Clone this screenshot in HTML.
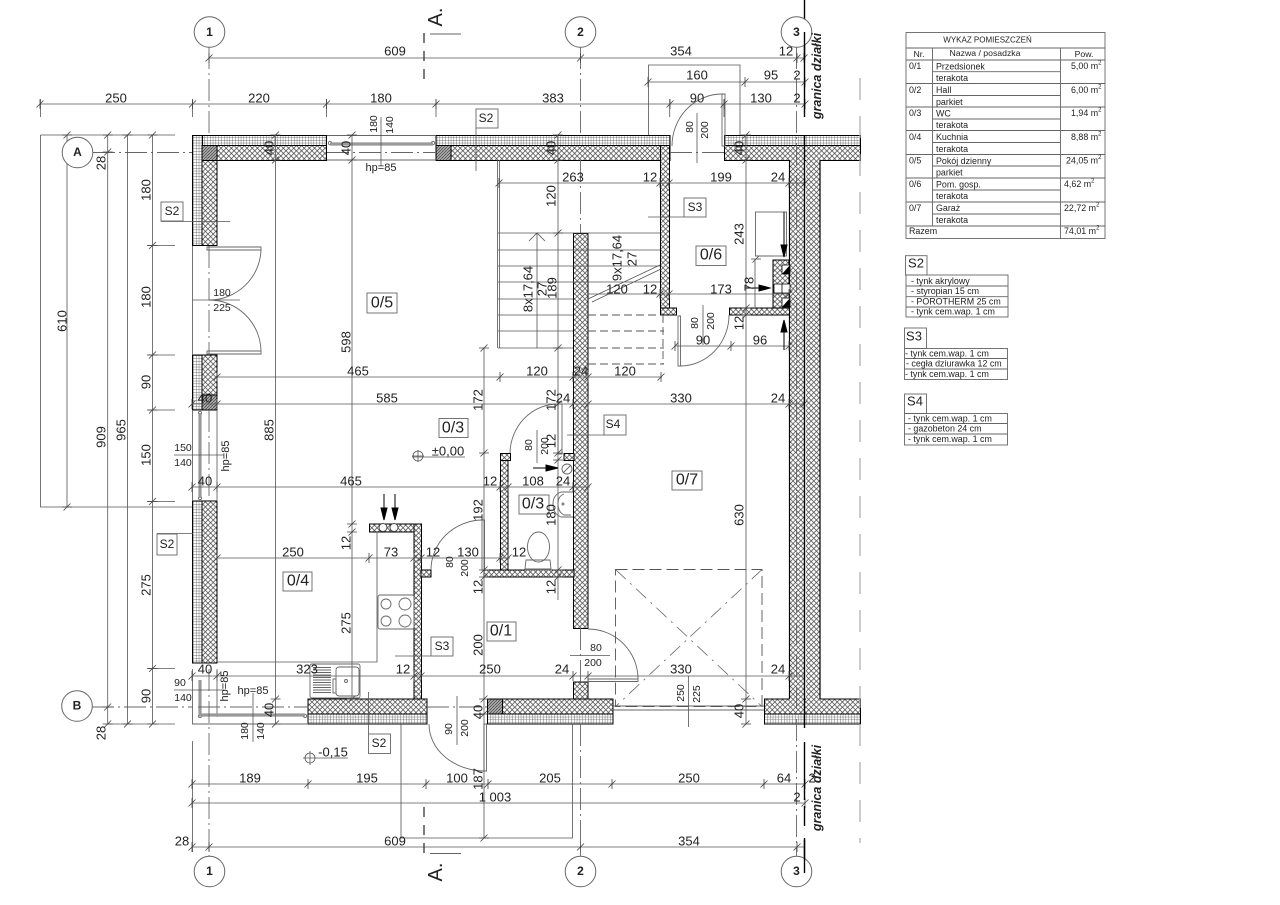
<!DOCTYPE html>
<html><head><meta charset="utf-8"><style>
html,body{margin:0;padding:0;background:#fff}
svg{display:block}
text{font-family:"Liberation Sans",sans-serif;fill:#222;text-anchor:middle;dominant-baseline:central}
.d{font-size:13px}.s{font-size:10.5px}.x{font-size:11px}.t{font-size:8.9px;text-anchor:start}.c{font-size:8.7px}.r{font-size:16px}.l{font-size:12px}.g{font-size:12.5px;font-weight:bold;font-style:italic}.n{font-size:12px;font-weight:bold}
.m{fill:url(#mesh);stroke:#000;stroke-width:1}.h{fill:url(#hatch);stroke:#000;stroke-width:1}
</style></head><body>
<svg width="1280" height="905" viewBox="0 0 1280 905" xmlns="http://www.w3.org/2000/svg">
<defs>
<pattern id="mesh" width="2.8" height="2.8" patternUnits="userSpaceOnUse"><rect width="2.8" height="2.8" fill="#fff"/><path d="M0 0H2.8M0 0V2.8" stroke="#444" stroke-width=".7"/></pattern>
<pattern id="hatch" width="5.2" height="5.2" patternUnits="userSpaceOnUse"><rect width="5.2" height="5.2" fill="#fff"/><path d="M0 0L5.2 5.2M5.2 0L0 5.2" stroke="#444" stroke-width=".75"/></pattern>
<pattern id="dark" width="3" height="3" patternUnits="userSpaceOnUse"><rect width="3" height="3" fill="#aaa"/><path d="M0 3L3 0" stroke="#444" stroke-width=".7"/></pattern>
<path id="t" d="M-3.500 3.500L3.500-3.500M0-5V5" stroke="#444" stroke-width=".8" fill="none"/>
<path id="u" d="M-3.500 3.500L3.500-3.500M-5 0H5" stroke="#444" stroke-width=".8" fill="none"/>
</defs>

<!-- walls -->
<g>
<rect class="m" x="192.500" y="135.500" width="134" height="10"/><rect class="h" x="202" y="145.500" width="124.500" height="15"/>
<rect class="m" x="192.500" y="135.500" width="10" height="110"/><rect class="h" x="202" y="145.500" width="15" height="100"/>
<rect x="202" y="145.500" width="15" height="15" fill="url(#dark)" stroke="#000"/>
<rect class="m" x="436" y="135.500" width="234" height="10"/><rect class="h" x="436" y="145.500" width="234" height="15"/>
<rect x="436" y="145.500" width="15" height="15" fill="url(#dark)" stroke="#000"/>
<rect class="h" x="660.500" y="145.500" width="9" height="169.500"/><rect class="h" x="660.500" y="308" width="16" height="7"/>
<rect class="m" x="724.500" y="135.500" width="136" height="10"/><rect class="h" x="724.500" y="145.500" width="136" height="15"/>
<rect class="m" x="192.500" y="355" width="10" height="55"/><rect class="h" x="202" y="355" width="15" height="55"/>
<rect x="202" y="395" width="15" height="15" fill="url(#dark)" stroke="#000"/>
<rect class="m" x="192.500" y="501" width="10" height="162"/><rect class="h" x="202" y="501" width="15" height="162"/>
<rect class="h" x="369.500" y="524" width="52" height="8"/><rect class="h" x="414" y="524" width="7.500" height="175"/><rect class="h" x="421" y="570" width="10" height="7"/>
<rect class="h" x="308" y="699" width="119" height="15"/><rect class="m" x="308" y="714" width="119" height="10"/>
<rect class="h" x="487.500" y="699" width="125.500" height="15"/><rect class="m" x="487.500" y="714" width="125.500" height="10"/>
<rect x="487.500" y="699" width="15" height="15" fill="url(#dark)" stroke="#000"/>
<rect class="h" x="573.500" y="682" width="14.500" height="17"/>
<rect class="h" x="764.500" y="699" width="96" height="15"/><rect class="m" x="764.500" y="714" width="96" height="10"/>
<rect class="h" x="789.500" y="160" width="15" height="540" style="stroke:none"/><rect class="h" x="806" y="160" width="14" height="540" style="stroke:none"/>
<path d="M789.500 160V699M820 160V699" stroke="#000" stroke-width="1.200"/>
<rect class="h" x="573.500" y="233.500" width="14.500" height="395"/>
<rect class="h" x="500.500" y="453.500" width="7.500" height="123.500"/><rect class="h" x="500.500" y="453.500" width="10" height="7"/>
<rect class="h" x="564" y="453.500" width="10" height="7"/><rect class="h" x="484" y="570" width="90" height="7"/>
<rect class="h" x="729.500" y="308" width="60" height="7"/><rect class="h" x="773" y="260" width="16" height="48"/>
<path d="M782 265h8v9h-8zM782 284h8v9h-8zM774 284h8v9h-8zM782 298h8v9h-8z" fill="#fff" stroke="#000" stroke-width=".8"/>
<path d="M782 274L790 265V274ZM782 307L790 298V307Z" fill="#000"/>
<circle cx="383" cy="527.500" r="4" fill="#fff" stroke="#444"/><circle cx="394" cy="527.500" r="4" fill="#fff" stroke="#444"/>
</g>

<!-- windows, doors, thin -->
<g stroke="#666" stroke-width=".9" fill="none">
<path d="M327 135.500H436M327 160H436M192.500 410V501M217 410V501M192.500 246V355M192.500 669V724H308M217 669V717M613 706H764M613 710H764"/>
<circle cx="330" cy="143" r="1.700"/><circle cx="433" cy="143" r="1.700"/><circle cx="200" cy="413" r="1.700"/><circle cx="200" cy="498" r="1.700"/><circle cx="200" cy="716" r="1.700"/><circle cx="305" cy="716" r="1.700"/>
<path d="M207 247h54v3h-54zM207 351h54v3h-54zM722 94h3v52h-3zM678 316h2.500v50h-2.500zM558 404h4v50h-4zM482 520h2.500v50h-2.500zM484 724h2.500v47h-2.500zM588 679h50v2.500h-50z"/>
<path d="M261 250A52 52 0 0 1 209 300A52 52 0 0 1 261 351"/>
<path d="M672 146A50 52 0 0 1 722 94M680 366A49 51 0 0 0 729 315M558 404A48 50 0 0 0 510 453M482 520A52 50 0 0 0 431 570M484 771A56 47 0 0 1 429 724M588 629A50 50 0 0 1 638 679"/>
</g>
<path d="M330 144H433M200 413V498M200 680V715H305" stroke="#999" stroke-width="3.200" fill="none"/>

<!-- axes -->
<g stroke="#666" stroke-width=".9" fill="none" stroke-dasharray="22 4 2 4">
<path d="M209 47V135M209 246V355M209 410V501M209 669V856M580.500 47V135M580.500 160V233M580.500 628V682M580.500 724V856M796.500 47V856"/>
<path d="M93 152.500H192M327 152.500H436M670 152.500H724M92 707H192M198 707H308M427 707H487"/>
</g>
<!-- dimension lines -->
<g stroke="#555" stroke-width=".8" fill="none">
<path d="M209 58H805M648 82H805M40 104H805M499 183H805M588 294H789M675 346H789M217 377H662M192 404H805M192 487H590M217 558H510M192 676H805M192 784H805M192 803H805M192 847H805"/>
<path d="M40.500 99V117M192.500 99V117M326.500 99V117M436 99V117M669.700 99V117M724 99V117"/>
<path d="M40.500 135V507H192M40.500 135H175M67 135V507M107.700 135V724M127.500 135V724M152.500 135V724M275.500 135V724M352 135V700M484 348V838M558 135V600M746 135V724"/>
<path d="M147 245.500H175M147 355H175M147 410H175M147 501.500H175M147 668.500H175M107 724H175M192.500 741V852"/>
<path d="M648.500 135V65H740V135M401 724V838H572.500V724M381 117V166M174 455H224M193 300H240M697 113V163M703 305V345M537 430V463M457 696V745M570 655.500H610M688.500 676V727M174 690H224M253 693V742"/>
<path d="M161 221.500H230M157 533.500H193M368.500 692V734M648 217H684M395 656H431M567 435H604M476 128V171"/>
<path d="M377 532V662H217M499.500 160V348M497.500 160V348"/>
<path d="M412 457H465M303 758H348M412 456H424M418 450V462M303 758H316M310 751V765"/>
<path d="M498 233H660M498 250H660M498 266H660M498 282H660M498 299H573M498 315H573M498 331H573M498 348H573M537 233V348M529 241L537 233L545 241M588 299L660 265M592 302L661 269"/>
<circle cx="418" cy="456" r="5"/><circle cx="310" cy="758" r="5"/>
</g>
<path d="M588 315H660M588 331H664M588 348H664M588 364H664M663 315V364" stroke="#555" stroke-width=".9" fill="none" stroke-dasharray="8 4"/>
<rect x="615.500" y="569.500" width="146.500" height="137" fill="none" stroke="#555" stroke-width=".9" stroke-dasharray="12 5"/>
<path d="M615.500 569.500L762 706.500M762 569.500L615.500 706.500" stroke="#666" stroke-width=".8" fill="none" stroke-dasharray="14 6 2 6"/>

<!-- ticks -->
<g>
<use href="#t" x="209" y="58"/><use href="#t" x="580.500" y="58"/><use href="#t" x="797" y="58"/><use href="#t" x="804" y="58"/>
<use href="#t" x="648" y="82"/><use href="#t" x="745" y="82"/><use href="#t" x="805" y="82"/>
<use href="#t" x="40" y="104"/><use href="#t" x="192.500" y="104"/><use href="#t" x="326.500" y="104"/><use href="#t" x="436" y="104"/><use href="#t" x="670" y="104"/><use href="#t" x="724" y="104"/><use href="#t" x="805" y="104"/>
<use href="#t" x="499" y="183"/><use href="#t" x="660" y="183"/><use href="#t" x="669" y="183"/><use href="#t" x="789" y="183"/><use href="#t" x="805" y="183"/>
<use href="#t" x="660" y="294"/><use href="#t" x="669" y="294"/><use href="#t" x="789" y="294"/>
<use href="#t" x="675" y="346"/><use href="#t" x="731" y="346"/><use href="#t" x="789" y="346"/>
<use href="#t" x="217" y="377"/><use href="#t" x="500" y="377"/><use href="#t" x="573" y="377"/><use href="#t" x="588" y="377"/><use href="#t" x="661" y="377"/>
<use href="#t" x="192" y="404"/><use href="#t" x="217" y="404"/><use href="#t" x="558" y="404"/><use href="#t" x="573" y="404"/><use href="#t" x="588" y="404"/><use href="#t" x="789" y="404"/><use href="#t" x="804" y="404"/>
<use href="#t" x="192" y="487"/><use href="#t" x="217" y="487"/><use href="#t" x="500" y="487"/><use href="#t" x="508" y="487"/><use href="#t" x="573" y="487"/><use href="#t" x="588" y="487"/>
<use href="#t" x="217" y="558"/><use href="#t" x="369" y="558"/><use href="#t" x="414" y="558"/><use href="#t" x="421" y="558"/><use href="#t" x="500" y="558"/><use href="#t" x="508" y="558"/>
<use href="#t" x="192" y="676"/><use href="#t" x="217" y="676"/><use href="#t" x="414" y="676"/><use href="#t" x="421" y="676"/><use href="#t" x="573" y="676"/><use href="#t" x="588" y="676"/><use href="#t" x="789" y="676"/>
<use href="#t" x="192" y="784"/><use href="#t" x="308" y="784"/><use href="#t" x="426" y="784"/><use href="#t" x="488" y="784"/><use href="#t" x="612" y="784"/><use href="#t" x="764" y="784"/><use href="#t" x="805" y="784"/>
<use href="#t" x="192" y="803"/><use href="#t" x="805" y="803"/>
<use href="#t" x="192" y="847"/><use href="#t" x="209" y="847"/><use href="#t" x="580.500" y="847"/><use href="#t" x="797" y="847"/>
<use href="#u" x="67" y="135"/><use href="#u" x="67" y="507"/><use href="#u" x="107.700" y="135"/><use href="#u" x="107.700" y="152"/><use href="#u" x="107.700" y="707"/><use href="#u" x="107.700" y="724"/><use href="#u" x="127.500" y="135"/><use href="#u" x="127.500" y="724"/>
<use href="#u" x="152.500" y="135"/><use href="#u" x="152.500" y="245.500"/><use href="#u" x="152.500" y="355"/><use href="#u" x="152.500" y="410"/><use href="#u" x="152.500" y="501.500"/><use href="#u" x="152.500" y="668.500"/><use href="#u" x="152.500" y="724"/>
<use href="#u" x="275.500" y="135"/><use href="#u" x="275.500" y="160"/><use href="#u" x="275.500" y="699"/><use href="#u" x="275.500" y="724"/>
<use href="#u" x="352" y="135"/><use href="#u" x="352" y="160"/><use href="#u" x="352" y="524"/><use href="#u" x="352" y="532"/><use href="#u" x="352" y="699"/>
<use href="#u" x="484" y="348"/><use href="#u" x="484" y="453"/><use href="#u" x="484" y="570"/><use href="#u" x="484" y="577"/><use href="#u" x="484" y="699"/><use href="#u" x="484" y="714"/><use href="#u" x="484" y="838"/>
<use href="#u" x="558" y="135"/><use href="#u" x="558" y="160"/><use href="#u" x="558" y="233"/><use href="#u" x="558" y="348"/><use href="#u" x="558" y="453"/><use href="#u" x="558" y="460"/><use href="#u" x="558" y="570"/><use href="#u" x="558" y="577"/>
<use href="#u" x="746" y="135"/><use href="#u" x="746" y="160"/><use href="#u" x="756" y="259"/><use href="#u" x="746" y="308"/><use href="#u" x="746" y="315"/><use href="#u" x="746" y="699"/><use href="#u" x="746" y="724"/>
</g>

<!-- fixtures -->
<g stroke="#666" stroke-width=".9" fill="none">
<rect x="755.500" y="212" width="31" height="44"/>
<path d="M755.500 256H773M755 259V308M754 288H770"/>
<rect x="378" y="595" width="36" height="34" rx="2"/>
<circle cx="386" cy="604" r="5"/><circle cx="405" cy="604" r="6"/><circle cx="386" cy="621" r="5"/><circle cx="405" cy="621" r="6"/>
<rect x="310" y="664" width="50" height="34" rx="2"/>
<rect x="336" y="667" width="23" height="29" rx="3"/><rect x="333" y="679" width="3" height="14"/><circle cx="346" cy="681" r="1.500"/>
<ellipse cx="538.500" cy="547" rx="11" ry="15" fill="#fff"/><path d="M526 560H550L551 569H525ZM525 570H552"/>
<path d="M573 492H561Q553 495 553 504Q553 514 561 517H573M564 494Q558 496 558 504Q558 512 564 515H571"/><circle cx="563" cy="504" r="1"/>
<circle cx="567" cy="469" r="5"/><path d="M563 473L571 465"/>
</g>
<path d="M313 667.500h18M313 670h18M313 672.500h18M313 675h18M313 677.500h18M313 680h18M313 682.500h18M313 685h18M313 687.500h18M313 690h18M313 692.500h18" stroke="#666" stroke-width="1"/>
<!-- arrows -->
<g stroke="#000" stroke-width="1" fill="#000">
<path d="M384 494V510"/><path d="M395 494V510"/><path d="M381 508H387L384 520ZM392 508H398L395 520Z"/>
<path d="M784 212V247"/><path d="M781 245H787L784 257Z"/><path d="M746 288H760"/><path d="M759 285V291L770 288Z"/>
<path d="M781 332H787L784 320Z"/><path d="M784 332V350"/>
<path d="M533 468H546"/><path d="M546 465V471L558 468Z"/>
</g>
<!-- property and section lines -->
<path d="M804.500 0V117M804.500 135V728M804.500 742V800M804.500 806V826M804.500 838V873" stroke="#000" stroke-width="1.400" fill="none"/>
<path d="M860 78V843" stroke="#aaa" stroke-width="1.200" stroke-dasharray="22 16" fill="none"/>
<path d="M424 33V82M424 807V855" stroke="#444" stroke-width="1.400" stroke-dasharray="10 8" fill="none"/>
<path d="M430 34H461M430 853.500H461" stroke="#666" stroke-width=".9"/>

<!-- axis bubbles -->
<g fill="#fff" stroke="#666" stroke-width="1">
<circle cx="209.500" cy="32" r="15.300"/><circle cx="580.500" cy="32" r="15.300"/><circle cx="796.500" cy="32" r="15.300"/>
<circle cx="209.500" cy="871.500" r="15.300"/><circle cx="580.500" cy="871.500" r="15.300"/><circle cx="796.500" cy="871.500" r="15.300"/>
<circle cx="77.500" cy="152.500" r="15.300"/><circle cx="77" cy="706" r="15.300"/>
</g>
<path d="M804.500 32V60M804.500 840V873" stroke="#000" stroke-width="1.400"/>
<g>
<text class="n" x="209.500" y="32">1</text><text class="n" x="580.500" y="32">2</text><text class="n" x="796.500" y="32">3</text>
<text class="n" x="209.500" y="871">1</text><text class="n" x="580.500" y="871">2</text><text class="n" x="796.500" y="871">3</text>
<text class="n" x="77.500" y="152">A</text><text class="n" x="77" y="705.500">B</text>
</g>

<!-- tag boxes -->
<g fill="#fff" stroke="#666" stroke-width=".9">
<rect x="476" y="109" width="22" height="19"/><rect x="161" y="202" width="22" height="19"/><rect x="157" y="534" width="20" height="21"/><rect x="368.500" y="734" width="22" height="19.500"/>
<rect x="684" y="198" width="22" height="19"/><rect x="431" y="637" width="22" height="19"/><rect x="604" y="415" width="22" height="20"/>
<rect x="367" y="293" width="30" height="20"/><rect x="696" y="246" width="30" height="19.500"/><rect x="439" y="418.500" width="29" height="19"/><rect x="672" y="471" width="30" height="19"/><rect x="519" y="495" width="30" height="19"/><rect x="283" y="572" width="29" height="19"/><rect x="487" y="622" width="29" height="19"/>
</g>
<text class="l" x="486" y="118">S2</text><text class="l" x="172" y="211">S2</text><text class="l" x="167" y="544">S2</text><text class="l" x="379" y="743">S2</text><text class="l" x="695" y="207">S3</text><text class="l" x="442" y="646">S3</text><text class="l" x="613" y="424">S4</text>
<text class="r" x="382" y="303">0/5</text><text class="r" x="711" y="255">0/6</text><text class="r" x="453" y="428">0/3</text><text class="r" x="687" y="480">0/7</text><text class="r" x="533" y="504">0/3</text><text class="r" x="298" y="581">0/4</text><text class="r" x="501" y="631">0/1</text>
<text class="l" style="font-size:13px" x="448" y="451">±0,00</text><text class="l" style="font-size:13px" x="333" y="752">-0,15</text>

<!-- horizontal dims -->
<g>
<text class="d" x="395" y="51">609</text><text class="d" x="681" y="51">354</text><text class="d" x="786" y="51">12</text>
<text class="d" x="697" y="75">160</text><text class="d" x="771" y="75">95</text><text class="d" x="797" y="75">2</text>
<text class="d" x="116" y="98">250</text><text class="d" x="259" y="98">220</text><text class="d" x="381" y="98">180</text><text class="d" x="553" y="98">383</text><text class="d" x="697" y="98">90</text><text class="d" x="761" y="98">130</text><text class="d" x="797" y="98">2</text>
<text class="d" x="573" y="177">263</text><text class="d" x="650" y="177">12</text><text class="d" x="721" y="177">199</text><text class="d" x="778" y="177">24</text>
<text class="d" x="617" y="289">120</text><text class="d" x="650" y="289">12</text><text class="d" x="721" y="289">173</text>
<text class="d" x="703" y="340">90</text><text class="d" x="760" y="340">96</text>
<text class="d" x="358" y="371">465</text><text class="d" x="537" y="371">120</text><text class="d" x="581" y="371">24</text><text class="d" x="625" y="371">120</text>
<text class="d" x="387" y="398">585</text><text class="d" x="563" y="398">24</text><text class="d" x="681" y="398">330</text><text class="d" x="778" y="398">24</text><text class="d" x="205" y="398">40</text>
<text class="d" x="205" y="481">40</text><text class="d" x="351" y="481">465</text><text class="d" x="490" y="481">12</text><text class="d" x="533" y="481">108</text><text class="d" x="563" y="481">24</text>
<text class="d" x="293" y="552">250</text><text class="d" x="391" y="552">73</text><text class="d" x="433" y="552">12</text><text class="d" x="468" y="552">130</text><text class="d" x="519" y="552">12</text>
<text class="d" x="205" y="669">40</text><text class="d" x="307" y="669">323</text><text class="d" x="403" y="669">12</text><text class="d" x="490" y="669">250</text><text class="d" x="562" y="669">24</text><text class="d" x="681" y="669">330</text><text class="d" x="778" y="669">24</text>
<text class="d" x="250" y="778">189</text><text class="d" x="367" y="778">195</text><text class="d" x="457" y="778">100</text><text class="d" x="550" y="778">205</text><text class="d" x="689" y="778">250</text><text class="d" x="784" y="778">64</text><text class="d" x="812" y="778">2</text>
<text class="d" x="495" y="797">1 003</text><text class="d" x="797" y="797">2</text>
<text class="d" x="182" y="841">28</text><text class="d" x="395" y="841">609</text><text class="d" x="689" y="841">354</text>
</g>
<!-- rotated dims -->
<g>
<text class="d" transform="translate(62,321) rotate(-90)">610</text>
<text class="d" transform="translate(101,437) rotate(-90)">909</text><text class="d" transform="translate(101,163) rotate(-90)">28</text><text class="d" transform="translate(101,733) rotate(-90)">28</text>
<text class="d" transform="translate(121,430) rotate(-90)">965</text>
<text class="d" transform="translate(146,190) rotate(-90)">180</text><text class="d" transform="translate(146,297) rotate(-90)">180</text><text class="d" transform="translate(146,382) rotate(-90)">90</text><text class="d" transform="translate(146,455) rotate(-90)">150</text><text class="d" transform="translate(146,585) rotate(-90)">275</text><text class="d" transform="translate(146,696) rotate(-90)">90</text>
<text class="d" transform="translate(269,148) rotate(-90)">40</text><text class="d" transform="translate(269,430) rotate(-90)">885</text><text class="d" transform="translate(269,710) rotate(-90)">40</text>
<text class="d" transform="translate(346,148) rotate(-90)">40</text><text class="d" transform="translate(346,342) rotate(-90)">598</text><text class="d" transform="translate(346,543) rotate(-90)">12</text><text class="d" transform="translate(346,623) rotate(-90)">275</text>
<text class="d" transform="translate(478,400) rotate(-90)">172</text><text class="d" transform="translate(478,510) rotate(-90)">192</text><text class="d" transform="translate(478,587) rotate(-90)">12</text><text class="d" transform="translate(478,645) rotate(-90)">200</text><text class="d" transform="translate(478,712) rotate(-90)">40</text><text class="d" transform="translate(478,779) rotate(-90)">187</text>
<text class="d" transform="translate(551,148) rotate(-90)">40</text><text class="d" transform="translate(551,196) rotate(-90)">120</text><text class="d" transform="translate(552,288) rotate(-90)">189</text><text class="d" transform="translate(551,400) rotate(-90)">172</text><text class="d" transform="translate(551,441) rotate(-90)">12</text><text class="d" transform="translate(551,515) rotate(-90)">180</text><text class="d" transform="translate(551,587) rotate(-90)">12</text>
<text class="d" transform="translate(739,148) rotate(-90)">40</text><text class="d" transform="translate(739,234) rotate(-90)">243</text><text class="d" transform="translate(749,284) rotate(-90)">78</text><text class="d" transform="translate(739,323) rotate(-90)">12</text><text class="d" transform="translate(739,515) rotate(-90)">630</text><text class="d" transform="translate(739,711) rotate(-90)">40</text>
<text class="d" transform="translate(528,289) rotate(-90)">8x17,64</text><text class="d" transform="translate(542,289) rotate(-90)">27</text>
<text class="d" transform="translate(617,258) rotate(-90)">9x17,64</text><text class="d" transform="translate(632,259) rotate(-90)">27</text>
<text class="s" transform="translate(374,124) rotate(-90)">180</text><text class="s" transform="translate(390,125) rotate(-90)">140</text>
<text class="s" transform="translate(690,127) rotate(-90)">80</text><text class="s" transform="translate(705,130) rotate(-90)">200</text>
<text class="s" transform="translate(695,323) rotate(-90)">80</text><text class="s" transform="translate(711,321) rotate(-90)">200</text>
<text class="s" transform="translate(529,445) rotate(-90)">80</text><text class="s" transform="translate(545,446) rotate(-90)">200</text>
<text class="s" transform="translate(450,562) rotate(-90)">80</text><text class="s" transform="translate(465,568) rotate(-90)">200</text>
<text class="s" transform="translate(449,729) rotate(-90)">90</text><text class="s" transform="translate(465,728) rotate(-90)">200</text>
<text class="s" transform="translate(681,693) rotate(-90)">250</text><text class="s" transform="translate(697,694) rotate(-90)">225</text>
<text class="s" transform="translate(245,731) rotate(-90)">180</text><text class="s" transform="translate(261,731) rotate(-90)">140</text>
<text class="x" transform="translate(226,456) rotate(-90)">hp=85</text><text class="x" transform="translate(225,686) rotate(-90)">hp=85</text>
<text style="font-size:20px" transform="translate(436,17) rotate(-90)">A.</text><text style="font-size:20px" transform="translate(436,872) rotate(-90)">A.</text>
<text class="g" transform="translate(817,76) rotate(-90)">granica działki</text><text class="g" transform="translate(817,788) rotate(-90)">granica działki</text>
</g>
<text class="s" x="222" y="293">180</text><text class="s" x="222" y="308">225</text>
<text class="s" x="183" y="448">150</text><text class="s" x="183" y="463">140</text>
<text class="s" x="180" y="683">90</text><text class="s" x="183" y="698">140</text>
<text class="s" x="596" y="648">80</text><text class="s" x="593" y="663">200</text>
<text class="x" x="381" y="168">hp=85</text><text class="x" x="253" y="691">hp=85</text>

<!-- schedule -->
<g stroke="#666" stroke-width=".9" fill="none">
<rect x="906" y="32.500" width="199" height="206"/>
<path d="M906 48H1105M906 60H1105M932.500 48V226M1060.500 48V238.500M906 83.500H1105M906 107H1105M906 130.500H1105M906 154.500H1105M906 178H1105M906 202H1105M906 226H1105M932.500 71.700H1060.500M932.500 95.500H1060.500M932.500 119H1060.500M932.500 142.500H1060.500M932.500 166H1060.500M932.500 190H1060.500M932.500 214H1060.500"/>
<rect x="905.500" y="255.700" width="21.500" height="19.300"/><rect x="906" y="275" width="102" height="42"/><path d="M906 286H1008M906 296.700H1008M906 307H1008"/>
<rect x="904.500" y="328" width="22" height="20.500"/><rect x="904.500" y="348.500" width="103" height="31"/><path d="M904.500 358.500H1007.500M904.500 369H1007.500"/>
<rect x="904.500" y="394" width="22" height="19.500"/><rect x="904.500" y="413.500" width="103" height="31.500"/><path d="M904.500 423.500H1007.500M904.500 434H1007.500"/>
</g>
<g>
<text class="c" style="font-size:8px" x="987.500" y="40">WYKAZ POMIESZCZEŃ</text>
<text class="c" x="919" y="54">Nr.</text><text class="c" x="985" y="53">Nazwa / posadzka</text><text class="c" x="1084" y="54">Pow.</text>
<text class="t" x="909" y="66">0/1</text><text class="t" x="936" y="66.500">Przedsionek</text><text class="t" x="936" y="78">terakota</text>
<text class="t" x="909" y="90">0/2</text><text class="t" x="936" y="90">Hall</text><text class="t" x="936" y="102">parkiet</text>
<text class="t" x="909" y="113">0/3</text><text class="t" x="936" y="113.500">WC</text><text class="t" x="936" y="125">terakota</text>
<text class="t" x="909" y="137">0/4</text><text class="t" x="936" y="137">Kuchnia</text><text class="t" x="936" y="149">terakota</text>
<text class="t" x="909" y="160.500">0/5</text><text class="t" x="936" y="161">Pokój dzienny</text><text class="t" x="936" y="172.500">parkiet</text>
<text class="t" x="909" y="184">0/6</text><text class="t" x="936" y="184.500">Pom. gosp.</text><text class="t" x="936" y="196">terakota</text>
<text class="t" x="909" y="208">0/7</text><text class="t" x="936" y="208">Garaż</text><text class="t" x="936" y="220">terakota</text>
<text class="t" x="909" y="231">Razem</text>
<text class="t" x="1071" y="66">5,00 m<tspan font-size="6" dy="-2.500">2</tspan></text>
<text class="t" x="1071" y="90">6,00 m<tspan font-size="6" dy="-2.500">2</tspan></text>
<text class="t" x="1071" y="113">1,94 m<tspan font-size="6" dy="-2.500">2</tspan></text>
<text class="t" x="1071" y="137">8,88 m<tspan font-size="6" dy="-2.500">2</tspan></text>
<text class="t" x="1066" y="160.500">24,05 m<tspan font-size="6" dy="-2.500">2</tspan></text>
<text class="t" x="1064" y="184">4,62 m<tspan font-size="6" dy="-2.500">2</tspan></text>
<text class="t" x="1064" y="208">22,72 m<tspan font-size="6" dy="-2.500">2</tspan></text>
<text class="t" x="1064" y="231">74,01 m<tspan font-size="6" dy="-2.500">2</tspan></text>
<text class="l" style="font-size:13px" x="916" y="263">S2</text><text class="l" style="font-size:13px" x="914" y="336">S3</text><text class="l" style="font-size:13px" x="915" y="401">S4</text>
<text class="t" x="911" y="281">- tynk akrylowy</text><text class="t" x="911" y="291">- styropian 15 cm</text><text class="t" x="911" y="301.500">- POROTHERM 25 cm</text><text class="t" x="911" y="311.500">- tynk cem.wap.  1 cm</text>
<text class="t" x="905" y="353.500">- tynk cem.wap. 1 cm</text><text class="t" x="906" y="363.500">- cegła dziurawka 12 cm</text><text class="t" x="905" y="374">- tynk cem.wap.  1 cm</text>
<text class="t" x="908" y="418.500">- tynk cem.wap. 1 cm</text><text class="t" x="908" y="428.500">- gazobeton 24 cm</text><text class="t" x="908" y="439">- tynk cem.wap.  1 cm</text>
</g>
</svg>
</body></html>
